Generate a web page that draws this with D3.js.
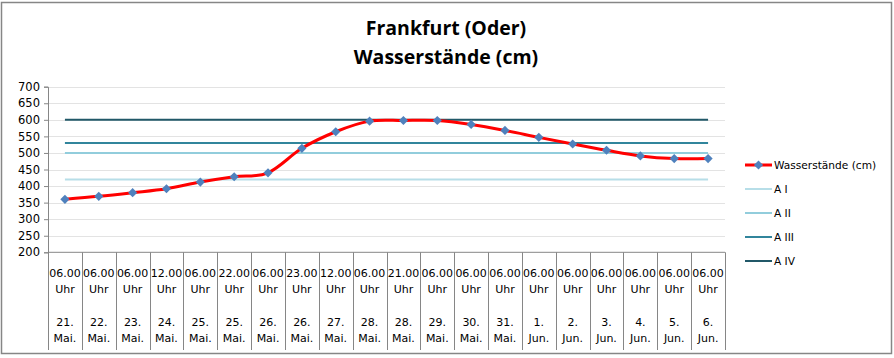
<!DOCTYPE html>
<html><head><meta charset="utf-8">
<script src="https://cdn.jsdelivr.net/npm/d3@7"></script>
<style>body{margin:0;background:#fff}svg{display:block}</style>
</head><body>
<svg id="c" width="894" height="358"></svg>
<script>
const times = ["06.00","06.00","06.00","12.00","06.00","22.00","06.00","23.00","12.00","06.00","21.00","06.00","06.00","06.00","06.00","06.00","06.00","06.00","06.00","06.00"];
const days = ["21.","22.","23.","24.","25.","25.","26.","26.","27.","28.","28.","29.","30.","31.","1.","2.","3.","4.","5.","6."];
const months = ["Mai.","Mai.","Mai.","Mai.","Mai.","Mai.","Mai.","Mai.","Mai.","Mai.","Mai.","Mai.","Mai.","Mai.","Jun.","Jun.","Jun.","Jun.","Jun.","Jun."];
const waterLevels = [360,369,380,392,412,428,440,514,564,596,598,598,586,568,547,527,508,491,483,483];
const alarmNames = ["A I","A II","A III","A IV"];
const alarmValues = [420,500,530,600];
const alarmColors = ["#B7DEE8","#92CDDC","#31859C","#215868"];
const yTicks = [200,250,300,350,400,450,500,550,600,650,700];

const svg = d3.select("#c");
const L = 48, R = 725, T = 86.7, B = 252.3;
const idx = d3.range(times.length);
const x = d3.scaleBand().domain(idx).range([L, R]);
const y = d3.scaleLinear().domain([200, 700]).range([B, T]);
const cx = i => x(i) + x.bandwidth() / 2;
const FONT = "'DejaVu Sans', Verdana, sans-serif";

// outer border
svg.append("rect").attr("x", 1.5).attr("y", 2.5).attr("width", 890).attr("height", 351)
  .attr("fill", "#fff").attr("stroke", "#868686").attr("stroke-width", 1.5);

// title
const title = svg.append("text").attr("text-anchor", "middle")
  .attr("font-family", "'Open Sans', sans-serif").attr("font-weight", 700).attr("font-size", 19.5).attr("fill", "#000");
title.append("tspan").attr("x", 446).attr("y", 35).text("Frankfurt (Oder)");
title.append("tspan").attr("x", 446).attr("y", 64).text("Wasserstände (cm)");

// gridlines
svg.append("g").selectAll("line").data(yTicks.filter(d => d > 200)).join("line")
  .attr("x1", L).attr("x2", R).attr("y1", d => Math.round(y(d)) + 0.5).attr("y2", d => Math.round(y(d)) + 0.5)
  .attr("stroke", "#E3E3E3").attr("stroke-width", 1);

// y axis
const yAxis = d3.axisLeft(y).tickValues(yTicks).tickSize(4).tickPadding(4);
const gy = svg.append("g").attr("transform", `translate(${L},0)`).call(yAxis);
gy.select(".domain").attr("stroke", "#868686");
gy.selectAll(".tick line").attr("stroke", "#868686");
gy.selectAll(".tick text").attr("font-family", FONT).attr("font-size", 11.5).attr("fill", "#000");

// x axis with category boundaries
svg.append("line").attr("x1", L).attr("x2", R).attr("y1", B).attr("y2", B).attr("stroke", "#868686");
const bounds = d3.range(times.length + 1).map(i => i < times.length ? x(i) : R);
svg.append("g").selectAll("line").data(bounds).join("line")
  .attr("x1", d => Math.round(d) + 0.5).attr("x2", d => Math.round(d) + 0.5)
  .attr("y1", B).attr("y2", 350).attr("stroke", "#868686");

const lab = svg.append("g").attr("font-family", FONT).attr("font-size", 11)
  .attr("fill", "#000").attr("text-anchor", "middle");
idx.forEach(i => {
  const t = lab.append("text");
  [[times[i], 277], ["Uhr", 292.5], [days[i], 326], [months[i], 342]].forEach(([s, yy]) => {
    t.append("tspan").attr("x", cx(i)).attr("y", yy).text(s);
  });
});

// alarm lines
svg.append("g").selectAll("line").data(alarmValues).join("line")
  .attr("x1", cx(0)).attr("x2", cx(times.length - 1))
  .attr("y1", d => y(d)).attr("y2", d => y(d))
  .attr("stroke", (d, i) => alarmColors[i]).attr("stroke-width", 2);

// water level line
const line = d3.line().x((d, i) => cx(i)).y(d => y(d)).curve(d3.curveCatmullRom.alpha(0));
svg.append("path").datum(waterLevels).attr("d", line).attr("fill", "none")
  .attr("stroke", "#FF0000").attr("stroke-width", 3);
const diamond = d3.symbol().type(d3.symbolSquare).size(42);
svg.append("g").selectAll("path").data(waterLevels).join("path")
  .attr("transform", (d, i) => `translate(${cx(i)},${y(d)}) rotate(45)`)
  .attr("d", diamond).attr("fill", "#4F81BD");

// legend
const legendItems = [{name: "Wasserstände (cm)", color: "#FF0000", w: 3, marker: true}]
  .concat(alarmNames.map((n, i) => ({name: n, color: alarmColors[i], w: 2, marker: false})));
const lg = svg.append("g");
legendItems.forEach((d, i) => {
  const yy = 165 + i * 24;
  lg.append("line").attr("x1", 745).attr("x2", 772).attr("y1", yy).attr("y2", yy)
    .attr("stroke", d.color).attr("stroke-width", d.w);
  if (d.marker) lg.append("path").attr("transform", `translate(758.5,${yy}) rotate(45)`).attr("d", diamond).attr("fill", "#4F81BD");
  lg.append("text").attr("x", 774).attr("y", yy + 4).attr("font-family", FONT)
    .attr("font-size", 10.6).attr("fill", "#000").text(d.name);
});
</script>
</body></html>
